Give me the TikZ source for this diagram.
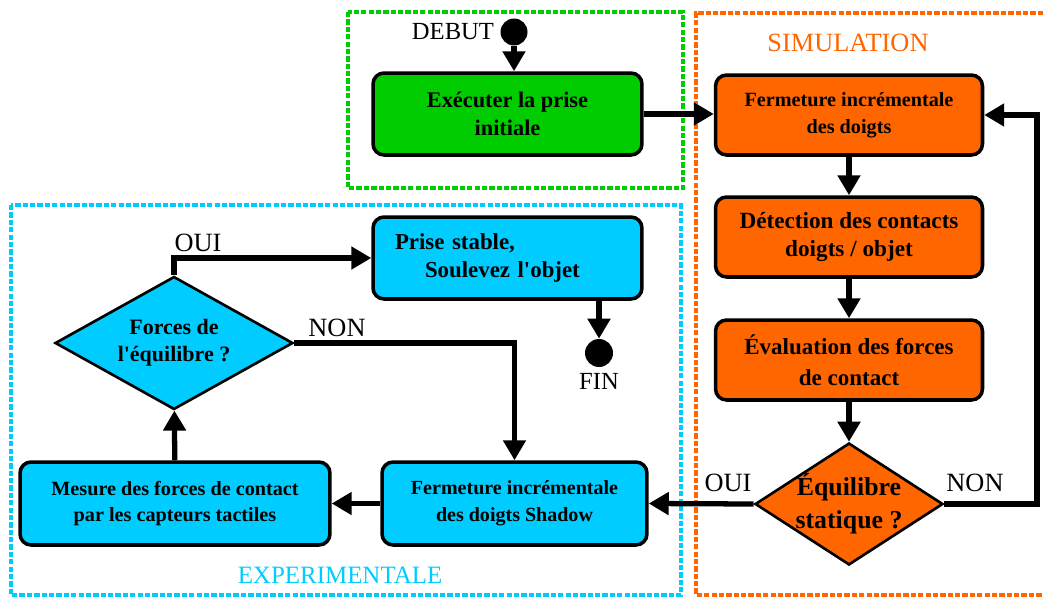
\documentclass[tikz,border=0pt]{standalone}
\usepackage{fontspec}
\setmainfont{Liberation Serif}
\usetikzlibrary{shapes.geometric,arrows.meta}
\definecolor{flowink}{HTML}{000000}
\definecolor{flowgreen}{HTML}{00CC00}
\definecolor{floworange}{HTML}{FF6600}
\definecolor{flowblue}{HTML}{00CCFF}

\begin{document}
\begin{tikzpicture}[x=0.02cm, y=-0.02cm,
                    >={Triangle[length=0.4cm, width=0.44cm]},
                    every node/.style={flowink, font=\bfseries},
                    etape/.style={draw=flowink, line width=2pt, rounded corners=0.22cm,
                                  align=center, inner sep=0pt},
                    test/.style={diamond, draw=flowink, line width=1.5pt, align=center,
                                 inner sep=-8pt, aspect=1.5},
                    point/.style={circle, fill=flowink, inner sep=0pt},
                    flux/.style={flowink, line width=3pt, ->},
                    cadre/.style={line width=2.6pt, dash pattern=on 3pt off 1.2pt},
                    reponse/.style={font=\fontsize{15}{18}\selectfont}]

\useasboundingbox (0,0) rectangle (1043,598);

%% ==== cadres en pointillés ===========================================
\draw[cadre, flowgreen]  (348,12) rectangle (683,188);
\draw[cadre, floworange] (1043,13) -- (696,13) -- (696,595) -- (1043,595);
\draw[cadre, flowblue]   (11,205) rectangle (681,595);

%% ==== départ ========================================================
\node[point, minimum size=0.54cm] (debut) at (514,32) {};
\node[left, font=\fontsize{14}{17}\selectfont] (debut-txt) at (debut.west) {DEBUT};

\node[etape, fill=flowgreen, minimum width=5.38cm, minimum height=1.64cm,
      font=\bfseries\fontsize{12.7}{15.9}\selectfont] (init) at (507.5,114)
  {Exécuter la prise\\initiale};

%% ==== simulation ====================================================
\node[text=floworange, font=\fontsize{15}{18}\selectfont] (simu) at (848,43) {SIMULATION};

\node[etape, fill=floworange, minimum width=5.34cm, minimum height=1.6cm,
      font=\bfseries\fontsize{11.5}{15.4}\selectfont] (ferm) at (849,115)
  {Fermeture incrémentale\\des doigts};
\node[etape, fill=floworange, minimum width=5.34cm, minimum height=1.6cm,
      font=\bfseries\fontsize{13.2}{16.5}\selectfont] (detect) at (849,237)
  {Détection des contacts\\doigts / objet};
\node[etape, fill=floworange, minimum width=5.34cm, minimum height=1.6cm,
      font=\bfseries\fontsize{13.1}{17.5}\selectfont] (eval) at (849,360)
  {Évaluation des forces\\de contact};
\node[test, fill=floworange, minimum width=3.76cm, minimum height=2.44cm,
      font=\bfseries\fontsize{14.7}{18.8}\selectfont] (equi) at (849,504)
  {Équilibre\\statique ?};

%% ==== expérimentale =================================================
\node[etape, fill=flowblue, minimum width=5.3cm, minimum height=1.66cm,
      font=\bfseries\fontsize{11.4}{15.2}\selectfont] (shadow) at (514.5,503.5)
  {Fermeture incrémentale\\des doigts Shadow};
\node[etape, fill=flowblue, minimum width=6.2cm, minimum height=1.66cm,
      font=\bfseries\fontsize{11.5}{15.2}\selectfont] (mesure) at (175,503.5)
  {Mesure des forces de contact\\par les capteurs tactiles};
\node[test, fill=flowblue, minimum width=4.76cm, minimum height=2.66cm,
      font=\bfseries\fontsize{12.5}{15.2}\selectfont] (forces) at (174,343)
  {Forces de\\l\textquotesingle équilibre ?};
\node[etape, fill=flowblue, minimum width=5.38cm, minimum height=1.64cm,
      text width=4.5cm, align=left, inner xsep=0.44cm,
      font=\bfseries\fontsize{13}{16}\selectfont] (prise) at (507.5,258)
  {Prise stable,\\\hspace*{0.6cm}Soulevez l\textquotesingle objet};

\node[point, minimum size=0.56cm] (fin) at (599,353) {};
\node[below, font=\fontsize{14}{17}\selectfont] (fin-txt) at (fin.south) {FIN};

\node[text=flowblue, font=\fontsize{14.2}{17}\selectfont] (expe) at (340,575) {EXPERIMENTALE};

%% ==== réponses ======================================================
\node[reponse] (oui-haut)   at (198,243) {OUI};
\node[reponse] (non-gauche) at (337,328) {NON};
\node[reponse] (oui-bas)    at (728,483) {OUI};
\node[reponse] (non-droite) at (975,483) {NON};

%% ==== liaisons ======================================================
\coordinate (retour) at (1037,504);

\draw[flux] (debut) -- (debut |- init.north);
\draw[flux] (init.east) -- (init.east -| ferm.west);
\draw[flux] (ferm) -- (detect);
\draw[flux] (detect) -- (eval);
\draw[flux] (eval) -- (equi);
\draw[flux] (equi.east) -- (retour) |- (ferm.east);
\draw[flux] (equi.west) -- (shadow.east);
\draw[flux] (shadow) -- (mesure);
\draw[flux] (mesure) -- (forces);
\draw[flux] (forces.north) |- (prise.west);
\draw[flux] (forces.east) -| (shadow.north);
\draw[flux] (prise.south -| fin) -- (fin);

\end{tikzpicture}
\end{document}
